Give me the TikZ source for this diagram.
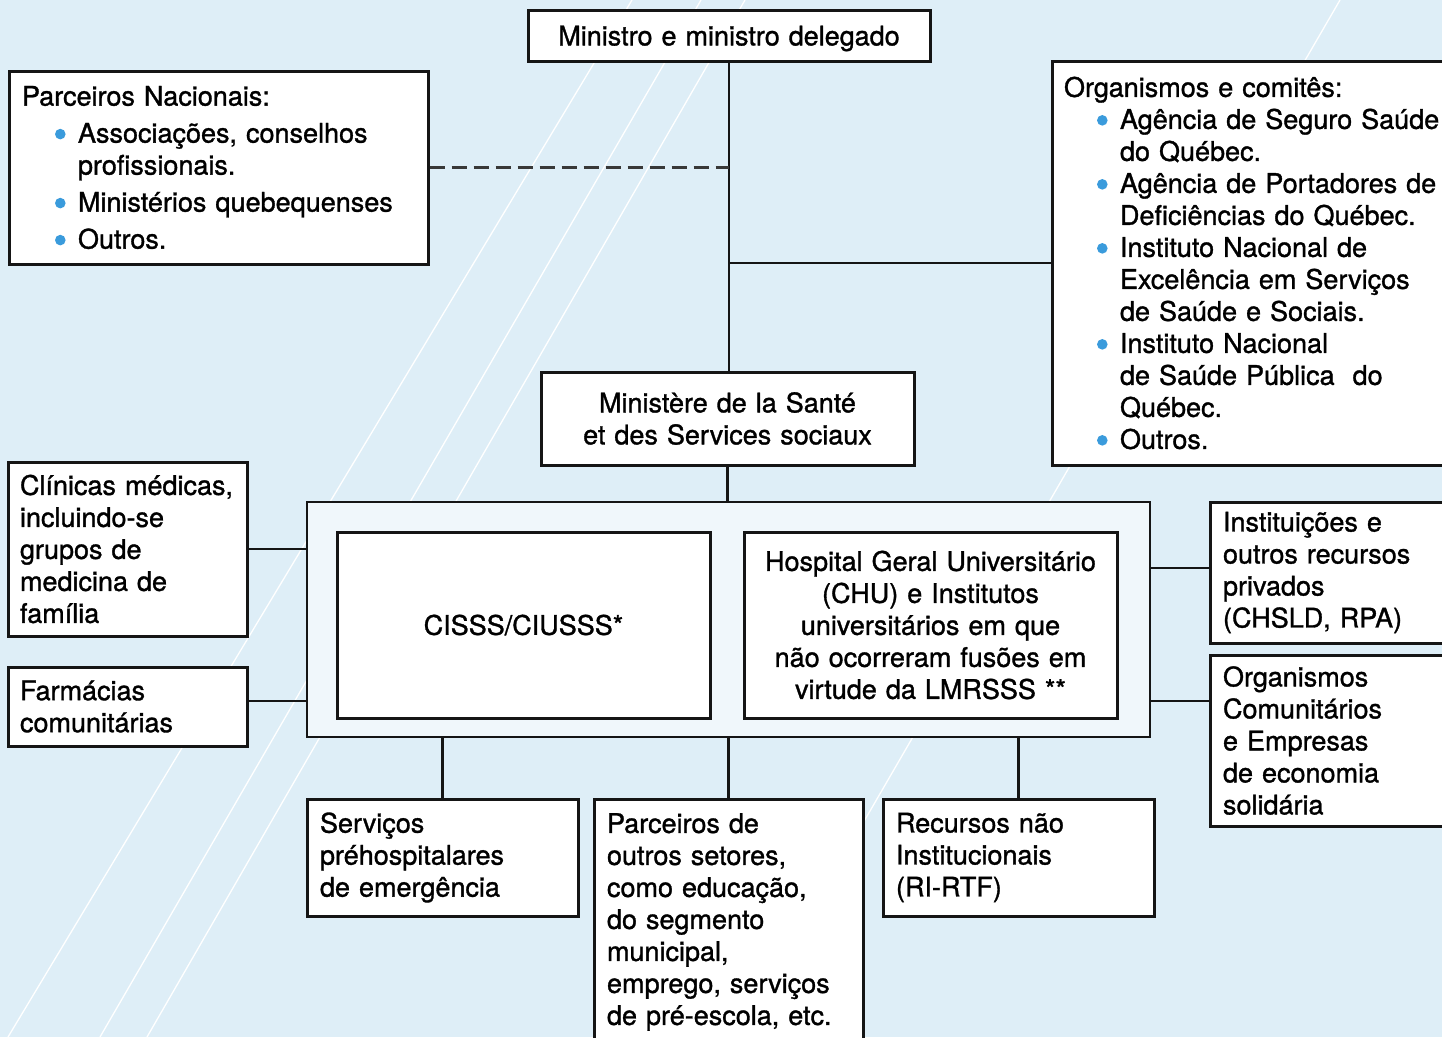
\documentclass[tikz,border=0pt]{standalone}
\usepackage{fontspec}
\newfontfamily\hv{TeX Gyre Heros}[FakeBold=1.2]
\definecolor{bgc}{HTML}{DEEEF7}
\definecolor{innerc}{HTML}{F0F7FB}
\definecolor{bulc}{HTML}{3A9BDC}
\definecolor{linec}{HTML}{151515}
\newcommand\bul{\hspace*{33pt}\makebox[23pt][l]{\tikz[baseline=-8.5pt]\fill[bulc] (5pt,0pt) circle (5.3pt);}}
\newcommand\ind{\hspace*{56pt}}
\begin{document}
\begin{tikzpicture}[x=1pt,y=-1pt,
  box/.style={draw=linec, line width=3pt, fill=white, inner ysep=0pt,
    font=\hv\fontsize{27}{32}\selectfont},
  lbox/.style n args={3}{box, align=left, minimum width=#1, minimum height=#2,
    inner xsep=#3, text width=#1-2*#3},
  cbox/.style 2 args={box, align=center, minimum width=#1, minimum height=#2,
    inner xsep=10pt, text width=#1-20pt},
  conn/.style={draw=linec, line width=2.8pt},
  bgline/.style={draw=white, line width=1.3pt}]
\clip (0,0) rectangle (1442,1037);
\fill[bgc] (0,0) rectangle (1442,1037);
% decorative background lines
\draw[bgline] (632,0) -- (8,1037);
\draw[bgline] (701,0) -- (100,1037);
\draw[bgline] (745,0) -- (147,1037);
\draw[bgline] (1340,0) -- (739,1037);

% nodes
\node[cbox={402pt}{51pt}] (mn) at (729,35.5) {\raisebox{-3pt}[\height][\depth]{Ministro e ministro delegado}};
\node[lbox={419pt}{193pt}{13pt}] (pn) at (218.5,167.5)
  {Parceiros Nacionais:\\[5pt]
   \bul Associações, conselhos\\
   \ind profissionais.\\[5pt]
   \bul Ministérios quebequenses\\[5pt]
   \bul Outros.};
\node[lbox={404pt}{404pt}{12pt}] (org) at (1254,263)
  {Organismos e comitês:\\
   \bul Agência de Seguro Saúde\\
   \ind do Québec.\\
   \bul Agência de Portadores de\\
   \ind Deficiências do Québec.\\
   \bul Instituto Nacional de\\
   \ind Excelência em Serviços\\
   \ind de Saúde e Sociais.\\
   \bul Instituto Nacional\\
   \ind de Saúde Pública\ \ do\\
   \ind Québec.\\
   \bul Outros.};
\node[cbox={373pt}{93pt}] (msss) at (727.5,418.5)
  {Ministère de la Santé\\ et des Services sociaux};
\node[box, fill=innerc, line width=2.8pt, minimum width=843pt, minimum height=235pt] (outer) at (728.5,619.5) {};
\node[cbox={373pt}{186pt}] (cisss) at (523.5,625) {CISSS/CIUSSS*};
\node[cbox={373pt}{186pt}] (hosp) at (930.5,625)
  {Hospital Geral Universitário\\ (CHU) e Institutos\\ universitários em que\\
   não ocorreram fusões em\\ virtude da LMRSSS **};
\node[lbox={239pt}{174pt}{12pt}] (clin) at (127.5,549)
  {Clínicas médicas,\\ incluindo-se\\ grupos de\\ medicina de\\ família};
\node[lbox={239pt}{79pt}{12pt}] (farm) at (127.5,706.5)
  {Farmácias\\ comunitárias};
\node[lbox={246pt}{141pt}{13pt}] (inst) at (1333,572.5)
  {Instituições e\\ outros recursos\\ privados\\ (CHSLD, RPA)};
\node[lbox={246pt}{171pt}{13pt}] (orgc) at (1333,740.5)
  {Organismos\\ Comunitários\\ e Empresas\\ de economia\\ solidária};
\node[lbox={271pt}{117pt}{13pt}] (serv) at (442.5,857.5)
  {Serviços\\ préhospitalares\\ de emergência};
\node[lbox={269pt}{246pt}{13pt}] (parc) at (728.5,922)
  {Parceiros de\\ outros setores,\\ como educação,\\ do segmento\\ municipal,\\
   emprego, serviços\\ de pré-escola, etc.};
\node[lbox={271pt}{117pt}{13pt}] (rec) at (1018.5,857.5)
  {Recursos não\\ Institucionais\\ (RI-RTF)};

% helper coordinates
\coordinate (hl1) at (0,549);
\coordinate (hl2) at (0,701);
\coordinate (hr1) at (0,568);

% connectors
\draw[conn] (mn.south) -- (mn.south |- msss.north);
\draw[conn] (mn.south |- org.west) -- (org.west);
\draw[draw=linec!85, line width=2.8pt, dash pattern=on 15pt off 7pt]
  (pn.east) -- (pn.east -| mn.south);
\draw[conn] (msss.south) -- (msss.south |- outer.north);
\draw[conn] (clin.east |- hl1) -- (outer.west |- hl1);
\draw[conn] (farm.east |- hl2) -- (outer.west |- hl2);
\draw[conn] (outer.east |- hr1) -- (inst.west |- hr1);
\draw[conn] (outer.east |- hl2) -- (orgc.west |- hl2);
\draw[conn] (serv.north |- outer.south) -- (serv.north);
\draw[conn] (parc.north |- outer.south) -- (parc.north);
\draw[conn] (rec.north |- outer.south) -- (rec.north);
\end{tikzpicture}
\end{document}
